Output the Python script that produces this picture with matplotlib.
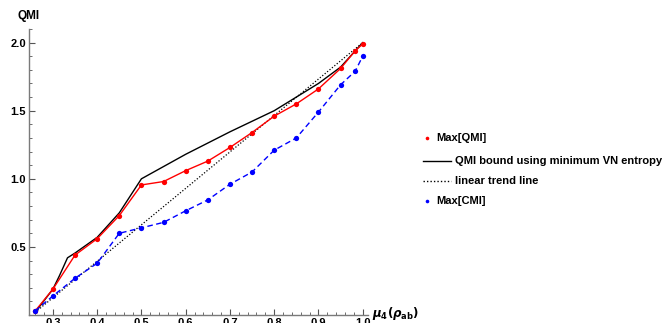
import matplotlib
matplotlib.use("Agg")
import matplotlib.pyplot as plt
from matplotlib.lines import Line2D
from matplotlib.ticker import MultipleLocator

plt.rcParams["font.family"] = ["Liberation Sans", "DejaVu Sans"]
plt.rcParams["font.weight"] = "bold"

mu4 = [0.26, 0.30, 0.35, 0.40, 0.45, 0.50, 0.55, 0.60, 0.65, 0.70,
       0.75, 0.80, 0.85, 0.90, 0.95, 0.983, 1.00]
max_qmi = [0.03, 0.19, 0.44, 0.56, 0.73, 0.955, 0.98, 1.06, 1.13, 1.23,
           1.34, 1.46, 1.55, 1.66, 1.81, 1.94, 1.99]
max_cmi = [0.03, 0.14, 0.27, 0.38, 0.60, 0.64, 0.68, 0.765, 0.845, 0.96,
           1.05, 1.21, 1.30, 1.49, 1.69, 1.79, 1.90]

bound_x = [0.26, 0.30, 0.315, 0.333, 0.35, 0.40, 0.45, 0.50,
           0.60, 0.70, 0.80, 0.85, 0.90, 0.95, 1.00]
bound_y = [0.02, 0.19, 0.29, 0.42, 0.455, 0.57, 0.75, 1.00,
           1.18, 1.345, 1.50, 1.60, 1.70, 1.82, 2.00]

trend_x = [0.26, 1.00]
trend_y = [0.02, 2.00]

W, H = 666, 323
fig = plt.figure(figsize=(W / 100, H / 100), dpi=100)
# axes box in pixels: left 29, right 368, bottom y=315, top y=29
ax = fig.add_axes([29 / W, (H - 315) / H, (368 - 29) / W, (315 - 29) / H])

ax.plot(bound_x, bound_y, color="black", lw=1.0)
ax.plot(trend_x, trend_y, color="black", lw=0.9, ls=(0, (1, 1.5)))
ax.plot(mu4, max_qmi, color="#ff0000", lw=1.0, marker="o", ms=3.8, mec="none")
ax.plot(mu4, max_cmi, color="#0000ff", lw=1.0, ls=(0, (4, 2.5)), marker="o",
        ms=3.8, mec="none")

ax.set_xlim(0.246, 1.012)
ax.set_ylim(0, 2.1)

for side in ["top", "right"]:
    ax.spines[side].set_visible(False)
for side in ["left", "bottom"]:
    ax.spines[side].set_color("#7a7a7a")
    ax.spines[side].set_linewidth(1.0)

ax.xaxis.set_minor_locator(MultipleLocator(0.02))
ax.yaxis.set_minor_locator(MultipleLocator(0.1))
ax.set_xticks([0.3, 0.4, 0.5, 0.6, 0.7, 0.8, 0.9, 1.0])
ax.set_xticklabels(["0.3", "0.4", "0.5", "0.6", "0.7", "0.8", "0.9", "1.0"])
ax.set_yticks([0.5, 1.0, 1.5, 2.0])
ax.set_yticklabels(["0.5", "1.0", "1.5", "2.0"])
ax.tick_params(which="major", direction="in", length=4, width=0.8,
               color="#555555", labelsize=8, pad=2)
ax.tick_params(which="minor", direction="in", length=2, width=0.6,
               color="#555555")
for lbl in ax.get_xticklabels() + ax.get_yticklabels():
    lbl.set_fontweight("bold")

fig.text(18 / W, 1 - 16 / H, "QMI", fontsize=8.5, fontweight="bold",
         va="center", ha="left")
fig.text(372 / W, 1 - 313 / H, r"$\mu_4(\rho_{\rm ab})$", fontsize=8.5,
         va="center", ha="left")

# legend drawn at the right side
def px(x, y):
    return x / W, 1 - y / H

entries = [
    ("Max[QMI]", "dot", "#ff0000", 138),
    ("QMI bound using minimum VN entropy", "solid", "black", 161),
    ("linear trend line", "dotted", "black", 181),
    ("Max[CMI]", "dot", "#0000ff", 201),
]
for label, kind, color, y in entries:
    if kind == "dot":
        fx, fy = px(427, y)
        fig.add_artist(Line2D([fx], [fy], marker="o", ms=2.6, color=color,
                              mec="none", transform=fig.transFigure))
        tx = 436
    else:
        x0, fy = px(423, y)
        x1, _ = px(451, y)
        ls = "-" if kind == "solid" else (0, (1, 1.5))
        fig.add_artist(Line2D([x0, x1], [fy, fy], color=color, lw=1.0, ls=ls,
                              transform=fig.transFigure))
        tx = 455
    fx, fy = px(tx, y)
    fig.text(fx, fy, label, fontsize=8, fontweight="bold", va="center",
             ha="left")

fig.savefig("out.png", dpi=100)
